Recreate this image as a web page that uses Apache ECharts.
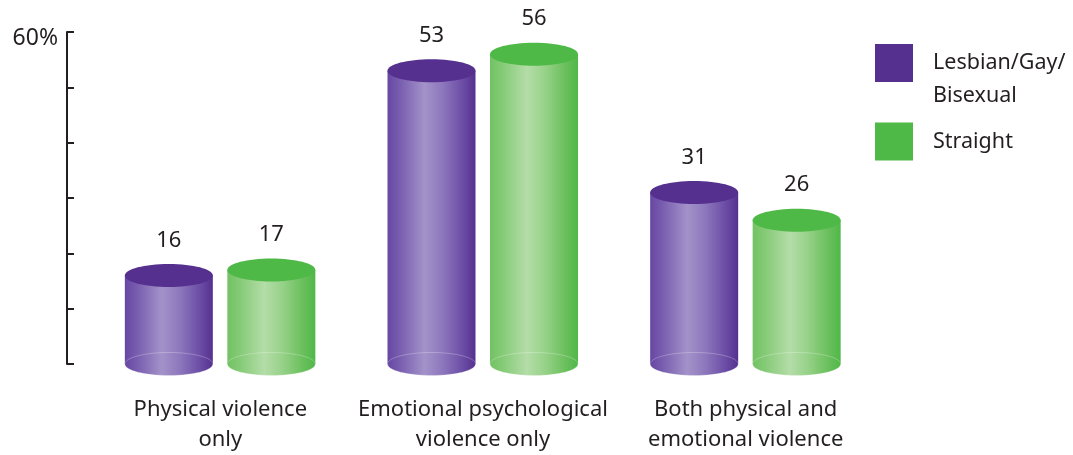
<!DOCTYPE html>
<html><head><meta charset="utf-8">
<script src="https://cdn.jsdelivr.net/npm/echarts@6/dist/echarts.min.js"></script>
<style>html,body{margin:0;padding:0;background:#fff}#c{width:1073px;height:455px}</style>
</head><body><div id="c"></div>
<script>
var categories = ['Physical violence\nonly', 'Emotional psychological\nviolence only', 'Both physical and\nemotional violence'];
var seriesNames = ['Lesbian/Gay/\nBisexual', 'Straight'];
var lgbValues = [16, 53, 31];
var straightValues = [17, 56, 26];
var yTicks = [0, 10, 20, 30, 40, 50, 60];

var FONT = '"Noto Sans", sans-serif';
var TEXT = '#231f20';
var styles = [
  {top: '#55308e', stops: ['#6647a3', '#7a5fb0', '#a392c9', '#8e78bd', '#6c4ea6', '#55318f']},
  {top: '#4fb948', stops: ['#72c263', '#86cb78', '#b4dda8', '#98d28a', '#6cc05e', '#4fb848']}
];
var offsets = [-51.5, 51];
var HALF_W = 44, RY = 11.5;

function makeRender(si) {
  return function (params, api) {
    var cat = api.value(0), val = api.value(1);
    var pTop = api.coord([cat, val]);
    var pBot = api.coord([cat, 0]);
    var cx = pTop[0] + offsets[si];
    var yT = pTop[1], yB = pBot[1];
    var st = styles[si];
    var s = st.stops;
    var grad = new echarts.graphic.LinearGradient(0, 0, 1, 0, [
      {offset: 0, color: s[0]}, {offset: 0.15, color: s[1]}, {offset: 0.42, color: s[2]},
      {offset: 0.62, color: s[3]}, {offset: 0.85, color: s[4]}, {offset: 1, color: s[5]}
    ]);
    return {
      type: 'group',
      children: [
        {type: 'ellipse', shape: {cx: cx, cy: yB, rx: HALF_W, ry: RY}, style: {fill: grad}},
        {type: 'rect', shape: {x: cx - HALF_W, y: yT, width: HALF_W * 2, height: yB - yT}, style: {fill: grad}},
        {type: 'ellipse', shape: {cx: cx, cy: yB, rx: HALF_W, ry: RY}, style: {fill: 'none', stroke: 'rgba(255,255,255,0.25)', lineWidth: 1}},
        {type: 'ellipse', shape: {cx: cx, cy: yT, rx: HALF_W, ry: RY}, style: {fill: st.top}},
        {type: 'text', style: {text: String(val), x: cx, y: yT - 35, align: 'center', verticalAlign: 'middle',
          fill: TEXT, font: '22px ' + FONT}}
      ]
    };
  };
}

function toData(arr) { return arr.map(function (v, i) { return [i, v]; }); }

var chart = echarts.init(document.getElementById('c'), null, {renderer: 'canvas'});
chart.setOption({
  animation: false,
  backgroundColor: '#fff',
  textStyle: {fontFamily: FONT},
  grid: {left: 89, right: 196, top: 32, bottom: 90, containLabel: false},
  legend: {
    orient: 'vertical', left: 870, top: 8.5, itemWidth: 38, itemHeight: 38, itemGap: 10,
    icon: 'rect',
    formatter: function (name) { return name === seriesNames[0] ? '\n' + name : name; },
    textStyle: {fontSize: 21.5, color: TEXT, lineHeight: 33, fontFamily: FONT, padding: [0, 0, 0, 15]},
    data: [
      {name: seriesNames[0], itemStyle: {color: styles[0].top}},
      {name: seriesNames[1], itemStyle: {color: styles[1].top}}
    ]
  },
  xAxis: {
    type: 'category', data: categories,
    axisLine: {show: false}, axisTick: {show: false},
    axisLabel: {margin: 31, fontSize: 22, color: TEXT, lineHeight: 30, fontFamily: FONT, interval: 0}
  },
  yAxis: {
    type: 'value', min: yTicks[0], max: yTicks[yTicks.length - 1], interval: yTicks[1] - yTicks[0], offset: 22,
    axisLine: {show: true, lineStyle: {color: TEXT, width: 2}},
    axisTick: {show: true, inside: true, length: 7, lineStyle: {color: TEXT, width: 2}},
    splitLine: {show: false},
    axisLabel: {margin: 9, color: TEXT, fontFamily: FONT,
      rich: {t: {fontSize: 23, color: TEXT, fontFamily: FONT, padding: [12, 0, 0, 0]}},
      formatter: function (v) { return v === yTicks[yTicks.length - 1] ? '{t|' + v + '%}' : ''; }}
  },
  series: [
    {name: seriesNames[0], type: 'custom', renderItem: makeRender(0), data: toData(lgbValues),
      itemStyle: {color: styles[0].top}, encode: {x: 0, y: 1}, clip: false},
    {name: seriesNames[1], type: 'custom', renderItem: makeRender(1), data: toData(straightValues),
      itemStyle: {color: styles[1].top}, encode: {x: 0, y: 1}, clip: false}
  ]
});
</script></body></html>
